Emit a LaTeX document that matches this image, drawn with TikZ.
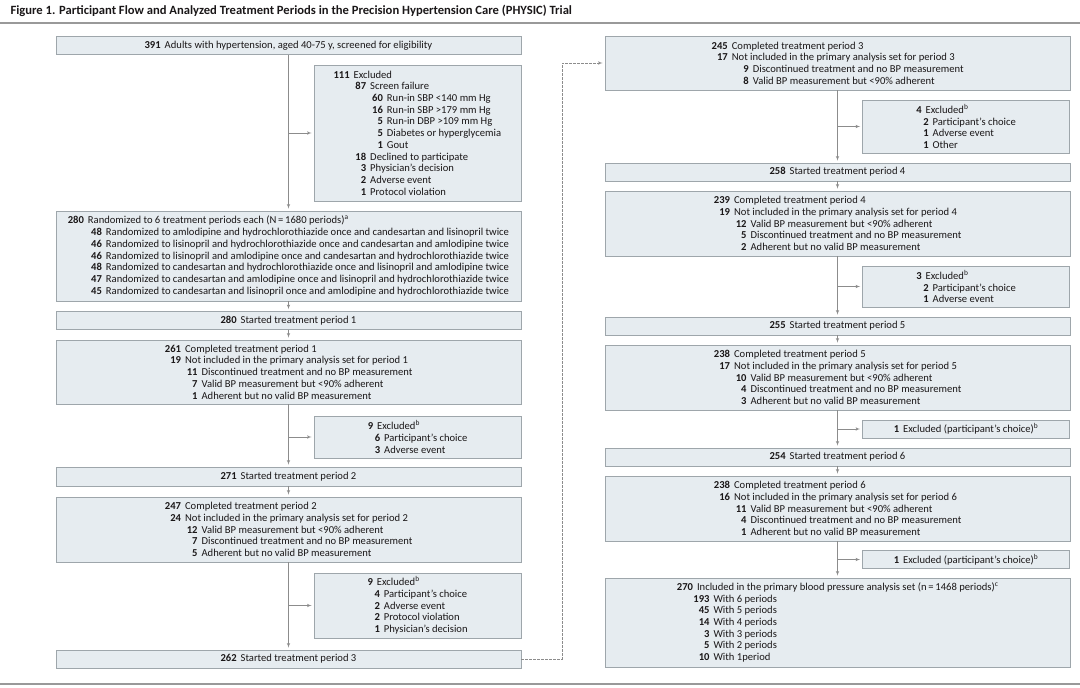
\documentclass[tikz,border=0pt]{standalone}
\usepackage{fontspec}
\setmainfont{Carlito}
\usetikzlibrary{arrows,calc}

\definecolor{boxfill}{HTML}{E6ECF0}
\definecolor{boxline}{HTML}{9EA6AB}
\definecolor{linkgray}{HTML}{8C8C8C}
\definecolor{ink}{HTML}{1A1718}

% number right-aligned at a given offset, then its text
\newcommand{\nline}[3]{\makebox[#1][r]{\textbf{#2}}\hspace{4pt}#3}

\begin{document}
\begin{tikzpicture}[x=1pt,y=-1pt,>=latex',font=\fontsize{10.6}{11.7}\selectfont,text=ink]
    \tikzstyle{box}=[draw=boxline, fill=boxfill, line width=0.6pt, align=left, inner sep=0pt]
    \tikzstyle{wide}=[box, minimum width=465pt]
    \tikzstyle{side}=[box, minimum width=207pt]
    \tikzstyle{link}=[draw=linkgray, line width=0.6pt, ->, shorten >=2pt]
    \useasboundingbox (0,0) rectangle (1080,688);
    \node[anchor=west, font=\fontsize{12.6}{14}\selectfont\bfseries] (title) at (7,10.5)
        {Figure 1. Participant Flow and Analyzed Treatment Periods in the Precision Hypertension Care (PHYSIC) Trial};
    \draw[gray!80, line width=2pt] (0,23) -- (1080,23);
    \draw[gray!80, line width=2pt] (0,684) -- (1080,684);
    % left column
    \node[wide, minimum height=18pt] (A) at (288.5,45.5)
        {\nline{16pt}{391}{Adults with hypertension, aged 40-75 y, screened for eligibility}};
    \node[side, minimum height=136pt] (E0) at (417.5,133)
        {\nline{15.7pt}{111}{Excluded}\\
         \nline{32.3pt}{87}{Screen failure}\\
         \nline{49pt}{60}{Run-in SBP <140 mm Hg}\\
         \nline{49pt}{16}{Run-in SBP >179 mm Hg}\\
         \nline{49pt}{5}{Run-in DBP >109 mm Hg}\\
         \nline{49pt}{5}{Diabetes or hyperglycemia}\\
         \nline{49pt}{1}{Gout}\\
         \nline{32.3pt}{18}{Declined to participate}\\
         \nline{32.3pt}{3}{Physician's decision}\\
         \nline{32.3pt}{2}{Adverse event}\\
         \nline{32.3pt}{1}{Protocol violation}};
    \node[wide, minimum height=90pt] (R) at (288.5,256)
        {\nline{16pt}{280}{Randomized to 6 treatment periods each (N\,=\,1680 periods)\textsuperscript{a}}\\
         \nline{34pt}{48}{Randomized to amlodipine and hydrochlorothiazide once and candesartan and lisinopril twice}\\
         \nline{34pt}{46}{Randomized to lisinopril and hydrochlorothiazide once and candesartan and amlodipine twice}\\
         \nline{34pt}{46}{Randomized to lisinopril and amlodipine once and candesartan and hydrochlorothiazide twice}\\
         \nline{34pt}{48}{Randomized to candesartan and hydrochlorothiazide once and lisinopril and amlodipine twice}\\
         \nline{34pt}{47}{Randomized to candesartan and amlodipine once and lisinopril and hydrochlorothiazide twice}\\
         \nline{34pt}{45}{Randomized to candesartan and lisinopril once and amlodipine and hydrochlorothiazide twice}};
    \node[wide, minimum height=18pt] (S1) at (288.5,320.5) {\nline{16pt}{280}{Started treatment period 1}};
    \node[wide, minimum height=64pt] (C1) at (288.5,372)
        {\nline{16.5pt}{261}{Completed treatment period 1}\\
         \nline{16.5pt}{19}{Not included in the primary analysis set for period 1}\\
         \nline{33pt}{11}{Discontinued treatment and no BP measurement}\\
         \nline{33pt}{7}{Valid BP measurement but <90\% adherent}\\
         \nline{33pt}{1}{Adherent but no valid BP measurement}};
    \node[side, minimum height=42pt] (E1) at (417.5,437)
        {\nline{5.5pt}{9}{Excluded\textsuperscript{b}}\\
         \nline{12.5pt}{6}{Participant's choice}\\
         \nline{12.5pt}{3}{Adverse event}};
    \node[wide, minimum height=19pt] (S2) at (288.5,476.5) {\nline{16pt}{271}{Started treatment period 2}};
    \node[wide, minimum height=65pt] (C2) at (288.5,529.5)
        {\nline{16.5pt}{247}{Completed treatment period 2}\\
         \nline{16.5pt}{24}{Not included in the primary analysis set for period 2}\\
         \nline{33pt}{12}{Valid BP measurement but <90\% adherent}\\
         \nline{33pt}{7}{Discontinued treatment and no BP measurement}\\
         \nline{33pt}{5}{Adherent but no valid BP measurement}};
    \node[side, minimum height=65pt] (E2) at (417.5,605.5)
        {\nline{5.5pt}{9}{Excluded\textsuperscript{b}}\\
         \nline{12.5pt}{4}{Participant's choice}\\
         \nline{12.5pt}{2}{Adverse event}\\
         \nline{12.5pt}{2}{Protocol violation}\\
         \nline{12.5pt}{1}{Physician's decision}};
    \node[wide, minimum height=18pt] (S3) at (288.5,659) {\nline{16pt}{262}{Started treatment period 3}};
    % right column
    \node[wide, minimum height=54pt] (C3) at (837.5,63)
        {\nline{16.5pt}{245}{Completed treatment period 3}\\
         \nline{16.5pt}{17}{Not included in the primary analysis set for period 3}\\
         \nline{37.5pt}{9}{Discontinued treatment and no BP measurement}\\
         \nline{37.5pt}{8}{Valid BP measurement but <90\% adherent}};
    \node[side, minimum height=53pt] (E3) at (966,126.5)
        {\nline{5.5pt}{4}{Excluded\textsuperscript{b}}\\
         \nline{12.5pt}{2}{Participant's choice}\\
         \nline{12.5pt}{1}{Adverse event}\\
         \nline{12.5pt}{1}{Other}};
    \node[wide, minimum height=18pt] (S4) at (837.5,172) {\nline{16pt}{258}{Started treatment period 4}};
    \node[wide, minimum height=65pt] (C4) at (837.5,223.5)
        {\nline{16.5pt}{239}{Completed treatment period 4}\\
         \nline{16.5pt}{19}{Not included in the primary analysis set for period 4}\\
         \nline{33pt}{12}{Valid BP measurement but <90\% adherent}\\
         \nline{33pt}{5}{Discontinued treatment and no BP measurement}\\
         \nline{33pt}{2}{Adherent but no valid BP measurement}};
    \node[side, minimum height=41pt] (E4) at (966,286.5)
        {\nline{5.5pt}{3}{Excluded\textsuperscript{b}}\\
         \nline{12.5pt}{2}{Participant's choice}\\
         \nline{12.5pt}{1}{Adverse event}};
    \node[wide, minimum height=18pt] (S5) at (837.5,326) {\nline{16pt}{255}{Started treatment period 5}};
    \node[wide, minimum height=65pt] (C5) at (837.5,377.5)
        {\nline{16.5pt}{238}{Completed treatment period 5}\\
         \nline{16.5pt}{17}{Not included in the primary analysis set for period 5}\\
         \nline{33pt}{10}{Valid BP measurement but <90\% adherent}\\
         \nline{33pt}{4}{Discontinued treatment and no BP measurement}\\
         \nline{33pt}{3}{Adherent but no valid BP measurement}};
    \node[side, minimum height=18pt] (E5) at (966,429)
        {\nline{5.5pt}{1}{Excluded (participant's choice)\textsuperscript{b}}};
    \node[wide, minimum height=18pt] (S6) at (837.5,457) {\nline{16pt}{254}{Started treatment period 6}};
    \node[wide, minimum height=65pt] (C6) at (837.5,508.5)
        {\nline{16.5pt}{238}{Completed treatment period 6}\\
         \nline{16.5pt}{16}{Not included in the primary analysis set for period 6}\\
         \nline{33pt}{11}{Valid BP measurement but <90\% adherent}\\
         \nline{33pt}{4}{Discontinued treatment and no BP measurement}\\
         \nline{33pt}{1}{Adherent but no valid BP measurement}};
    \node[side, minimum height=18pt] (E6) at (966,559.5)
        {\nline{5.5pt}{1}{Excluded (participant's choice)\textsuperscript{b}}};
    \node[wide, minimum height=89pt] (F) at (837.5,622.5)
        {\nline{16.5pt}{270}{Included in the primary blood pressure analysis set (n\,=\,1468 periods)\textsuperscript{c}}\\
         \nline{33pt}{193}{With 6 periods}\\
         \nline{33pt}{45}{With 5 periods}\\
         \nline{33pt}{14}{With 4 periods}\\
         \nline{33pt}{3}{With 3 periods}\\
         \nline{33pt}{5}{With 2 periods}\\
         \nline{33pt}{10}{With 1period}};
    % flow
    \draw[link] (A) -- (R);
    \draw[link] (A.south |- E0.west) -- (E0.west);
    \draw[link] (R) -- (S1);
    \draw[link] (S1) -- (C1);
    \draw[link] (C1) -- (S2);
    \draw[link] (C1.south |- E1.west) -- (E1.west);
    \draw[link] (S2) -- (C2);
    \draw[link] (C2) -- (S3);
    \draw[link] (C2.south |- E2.west) -- (E2.west);
    \coordinate (bend) at (562,0);
    \draw[link, dashed, dash pattern=on 2.5pt off 1.5pt] (S3.east) -- (S3.east -| bend) |- (C3.west);
    \draw[link] (C3) -- (S4);
    \draw[link] (C3.south |- E3.west) -- (E3.west);
    \draw[link] (S4) -- (C4);
    \draw[link] (C4) -- (S5);
    \draw[link] (C4.south |- E4.west) -- (E4.west);
    \draw[link] (S5) -- (C5);
    \draw[link] (C5) -- (S6);
    \draw[link] (C5.south |- E5.west) -- (E5.west);
    \draw[link] (S6) -- (C6);
    \draw[link] (C6) -- (F);
    \draw[link] (C6.south |- E6.west) -- (E6.west);
\end{tikzpicture}
\end{document}
